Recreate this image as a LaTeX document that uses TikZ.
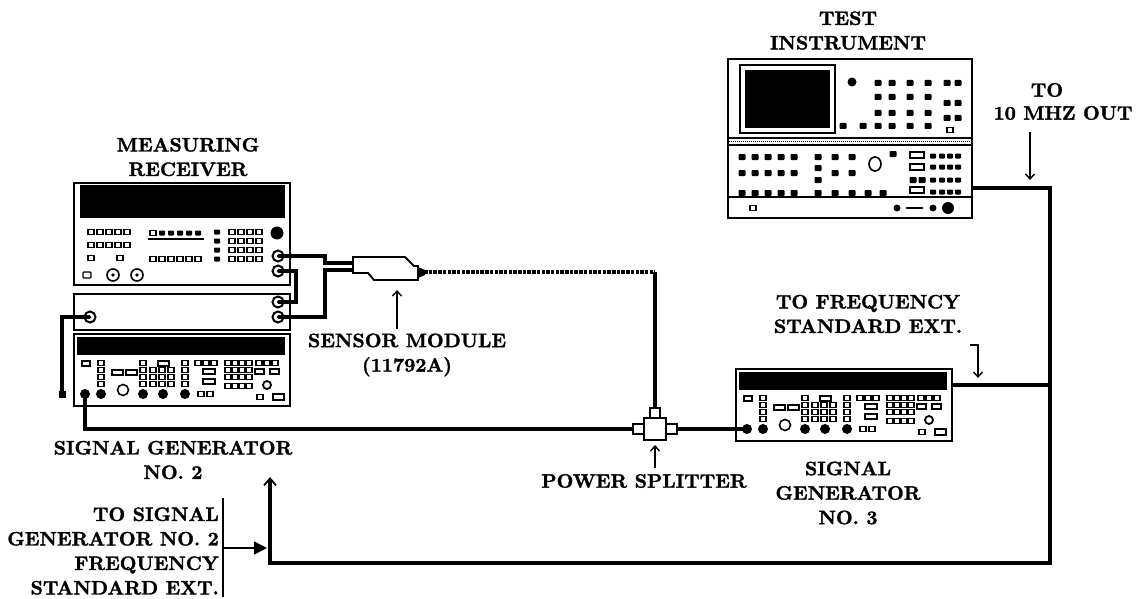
\documentclass[tikz,border=0pt]{standalone}
\usepackage{fontspec}
\newfontfamily\lblfont{lmroman10-bold.otf}[FakeBold=1.6]
\usetikzlibrary{arrows.meta}

\tikzset{
  unit/.style={draw, line width=2pt, inner sep=0pt, anchor=north west},
  cable/.style={line width=3.2pt},
  probe/.style={line width=3.2pt, dash pattern=on 3.5pt off 1.2pt},
  lead/.style={line width=1.4pt, -{Straight Barb[length=5pt,width=9pt]}},
  keyo/.style={draw, line width=1.3pt},
  keyf/.style={fill, rounded corners=0.8pt},
  lbl/.style={font=\lblfont\fontsize{19.4}{24.5}\selectfont, inner sep=0pt, align=center},
}

\newcommand{\key}[3][keyo]{\path[#1] (#2-3,#3-2.5) rectangle (#2+3,#3+2.5);}
\newcommand{\bkey}[2]{\path[keyf] (#1-3.5,#2-3) rectangle (#1+3.5,#2+3);}
\newcommand{\jack}[1]{\draw[line width=2pt] (#1) circle (5.5); \fill (#1) circle (1.5);}

% front panel of a signal generator, #1 = top left corner
\newcommand{\genpanel}[1]{%
\begin{scope}[shift={#1}]
  \fill (4,4) rectangle (212,22);
  \draw[keyo] (9,28) rectangle (17,33);
  \foreach \x in {28,70,112} \foreach \y in {30,37,44,51} {\key{\x}{\y}}
  \draw[keyo] (39,37) rectangle (50,42) (53,37) rectangle (64,42);
  \draw[keyo] (85,28) rectangle (96,33);
  \foreach \x in {80,89,98} \foreach \y in {37,44,51} {\key{\x}{\y}}
  \foreach \x in {125,133,141} {\key{\x}{30}}
  \draw[keyo] (130,36) rectangle (142,41) (130,46) rectangle (142,51);
  \key{128}{61} \key{137}{61}
  \foreach \x in {155,162,169,176} \foreach \y in {30,37,44,53} {\key{\x}{\y}}
  \foreach \x in {186,194,202} {\key{\x}{30}}
  \draw[keyo] (182,36) rectangle (191,41) (197,36) rectangle (206,41);
  \draw[line width=1.8pt] (194,52) circle (4);
  \key{187}{64}
  \draw[keyo] (200,61) rectangle (211,67);
  \foreach \x in {12,28,70,90,112} {\fill (\x,61) circle (5);}
  \draw[line width=1.6pt] (50,57) circle (5.5);
\end{scope}}

\begin{document}
\begin{tikzpicture}[x=1pt,y=-1pt]
\path[fill=white] (0,0) rectangle (1137,599);

% test instrument
\node[unit, minimum width=244pt, minimum height=159pt] (testinst) at (727,58) {};
\begin{scope}[shift={(727,58)}]
  \draw[line width=1.8pt] (13,7) rectangle (108,75);
  \fill (18,12) rectangle (103,70);
  \fill (125,24) circle (4.5);
  \foreach \x in {151,165,183,201} \foreach \y in {25,39,55,68} {\bkey{\x}{\y}}
  \foreach \y in {25,45,60} {\bkey{220}{\y} \bkey{231}{\y}}
  \bkey{116}{68} \bkey{136}{68}
  \key{223}{72}
  \draw[line width=1.6pt] (0,80) -- (244,80) (0,87) -- (244,87);
  \draw[densely dotted, line width=1pt] (0,83.5) -- (244,83.5);
  \foreach \x in {15,28,41,54,67} \foreach \y in {99,115,135} {\bkey{\x}{\y}}
  \foreach \x in {91,108,125} {\bkey{\x}{99} \bkey{\x}{135}}
  \bkey{108}{115} \bkey{125}{115} \bkey{91}{110} \bkey{91}{122}
  \bkey{141}{135} \bkey{156}{135}
  \draw[line width=1.6pt] (148,106) ellipse (6 and 7);
  \bkey{166}{96}
  \foreach \y in {97,109,132} {\draw[line width=1.6pt] (183,\y-3) rectangle (197,\y+3);}
  \bkey{186}{122} \bkey{195}{122}
  \foreach \x in {206,215,223,231} \foreach \y in {98,109,122,134} {\key[keyf]{\x}{\y}}
  \draw[line width=1.6pt] (0,139) -- (244,139);
  \key{26}{150}
  \fill (170,150) circle (3.5) (206,150) circle (3.5) (221,150) circle (6);
  \draw[line width=1.4pt, {Stealth[length=3pt]}-{Stealth[length=3pt]}] (178,150) -- (197,150);
\end{scope}

% measuring receiver
\node[unit, minimum width=216pt, minimum height=102pt] (recv) at (73,182) {};
\begin{scope}[shift={(73,182)}]
  \fill (7,3) rectangle (212,36);
  \foreach \x in {18,27,36,45,54} \foreach \y in {50,63} {\key{\x}{\y}}
  \key{18}{76} \key{47}{76}
  \draw[keyo, rounded corners=1pt] (10,90) rectangle (18,96);
  \foreach \x in {40,64} {\draw[line width=1.6pt] (\x,93) circle (6); \fill (\x,93) circle (1.8);}
  \key{80}{51}
  \foreach \x in {89,98,107,116,125} {\key[keyf]{\x}{51}}
  \fill (75,56) rectangle (131,58);
  \foreach \x in {80,89,98,107,116,125} {\key{\x}{77}}
  \foreach \y in {50,59,68,77} {\key[keyf]{144}{\y} \foreach \x in {159,168,177,186} {\key{\x}{\y}}}
  \fill (204,51) circle (6.5);
\end{scope}
\node[unit, minimum width=216pt, minimum height=36pt] (recvaux) at (73,293) {};

% signal generators
\node[unit, minimum width=216pt, minimum height=72pt] (gen2) at (73,333) {};
\genpanel{(73,333)}
\node[unit, minimum width=216pt, minimum height=72pt] (gen3) at (735,368) {};
\genpanel{(735,368)}

% connectors
\coordinate (rx-a) at (278,256);
\coordinate (rx-b) at (278,271);
\coordinate (aux-a) at (278,302);
\coordinate (aux-b) at (278,317);
\coordinate (aux-in) at (90,317);
\coordinate (loose-end) at (62,395);
\coordinate (sens-a) at (353,263);
\coordinate (sens-b) at (353,270);
\coordinate (sens-tip) at (424,272);
\coordinate (probe-bend) at (655,272);
\coordinate (split-t) at (655,408);
\coordinate (split-l) at (633,429);
\coordinate (split-r) at (677,429);
\coordinate (gen2-rf) at (85,394);
\coordinate (gen3-rf) at (747,429);
\coordinate (gen3-out) at (951,385);
\coordinate (ti-out) at (971,188);
\coordinate (bus-bot) at (1050,563);
\coordinate (ret-end) at (270,477);
\foreach \j in {rx-a,rx-b,aux-a,aux-b,aux-in} {\jack{\j}}

% sensor module
\draw[line width=1.8pt] (353,257) -- (405,257) -- (414,266) -- (418,266) -- (418,280) -- (374,280) -- (368,273) -- (353,273) -- cycle;
\fill (418,267) -- (425,270) -- (425,275) -- (418,278) -- cycle;

% power splitter
\node[draw, line width=1.8pt, minimum size=22pt, inner sep=0pt] (split) at (655,429) {};
\draw[line width=1.8pt] (633,424) rectangle (644,434) (666,424) rectangle (677,434) (650,408) rectangle (660,418);

% cables
\draw[cable] (rx-a) -- ++(47,0) |- (sens-a);
\draw[cable] (rx-b) -- ++(18,0) |- (aux-a);
\draw[cable] (aux-b) -- ++(47,0) |- (sens-b);
\draw[cable] (aux-in) -| (loose-end);
\fill (loose-end) +(-3.5,-4) rectangle +(3.5,3);
\draw[probe] (sens-tip) -- (probe-bend);
\draw[cable] (probe-bend) -- (split-t);
\draw[cable] (gen2-rf) |- (split-l);
\draw[cable] (split-r) -- (gen3-rf);
\draw[cable] (gen3-out) -- (gen3-out -| bus-bot);
\draw[cable, -{Straight Barb[length=7pt,width=12pt,line width=1.8pt]}] (ti-out) -| (bus-bot) -| (ret-end);

% labels
\node[lbl] (lbl-test) at (848,30.5) {TEST\\INSTRUMENT};
\node[lbl] (lbl-to) at (1047,90) {TO};
\node[lbl] (lbl-mhz) at (1063,113) {10 MHZ OUT};
\node[lbl] (lbl-recv) at (188,157) {MEASURING\\RECEIVER};
\node[lbl] (lbl-sensor) at (407,355) {SENSOR MODULE\\(11792A)};
\node[lbl] (lbl-fstd) at (868,314) {TO FREQUENCY\\STANDARD EXT.};
\node[lbl] (lbl-gen2) at (173,460) {SIGNAL GENERATOR\\NO. 2};
\node[lbl] (lbl-split) at (644,481) {POWER SPLITTER};
\node[lbl] (lbl-gen3) at (848,493) {SIGNAL\\GENERATOR\\NO. 3};
\node[lbl, anchor=east, align=right] (lbl-ext2) at (219,551) {TO SIGNAL\\GENERATOR NO. 2\\FREQUENCY\\STANDARD EXT.};

% pointers
\coordinate (mhz-a) at (1030,132);
\coordinate (mhz-b) at (1030,180);
\coordinate (fstd-a) at (970,345);
\coordinate (fstd-b) at (978,378);
\coordinate (sens-pt) at (397,290);
\coordinate (split-pt) at (655,445);
\coordinate (ext-top) at (223,498);
\coordinate (ext-bot) at (223,597);
\coordinate (ext-to) at (267,548);
\draw[lead] (mhz-a) -- (mhz-b);
\draw[lead] (fstd-a) -- ++(8,0) -- (fstd-b);
\draw[lead] (lbl-sensor.north -| sens-pt) ++(0,-4) -- (sens-pt);
\draw[lead] (lbl-split.north -| split-pt) ++(0,-6) -- (split-pt);
\draw[line width=1.4pt] (ext-top) -- (ext-bot);
\draw[line width=1.5pt, -{Triangle[length=13pt,width=13pt]}] (ext-top |- ext-to) -- (ext-to);
\end{tikzpicture}
\end{document}
